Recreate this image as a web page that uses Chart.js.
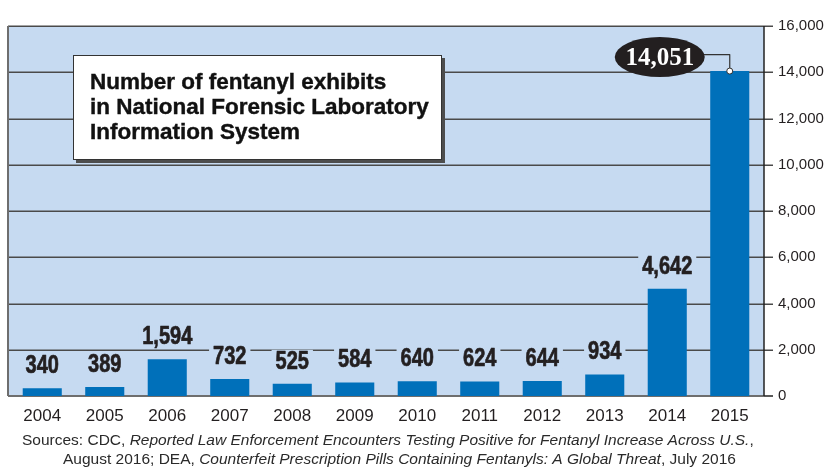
<!DOCTYPE html>
<html>
<head>
<meta charset="utf-8">
<script src="https://cdn.jsdelivr.net/npm/chart.js@4"></script>
<style>
html,body{margin:0;padding:0;background:#fff;}
canvas{display:block;}
</style>
</head>
<body>
<canvas id="c" width="827" height="468"></canvas>
<script>
const years = ['2004','2005','2006','2007','2008','2009','2010','2011','2012','2013','2014','2015'];
const exhibits = [340, 389, 1594, 732, 525, 584, 640, 624, 644, 934, 4642, 14051];
const yMax = 16000;
const yStep = 2000;
const titleLines = ['Number of fentanyl exhibits', 'in National Forensic Laboratory', 'Information System'];
const sourceLine1 = [['Sources: CDC, ', false], ['Reported Law Enforcement Encounters Testing Positive for Fentanyl Increase Across U.S.', true], [',', false]];
const sourceLine2 = [['August 2016; DEA, ', false], ['Counterfeit Prescription Pills Containing Fentanyls: A Global Threat', true], [', July 2016', false]];
const calloutIndex = exhibits.indexOf(Math.max(...exhibits));

const BG = '#c6daf1';
const BAR = '#0070ba';
const fmt = v => v.toLocaleString('en-US');

function condensedText(ctx, txt, x, y, sx) {
  ctx.save();
  ctx.translate(x, y);
  ctx.scale(sx, 1);
  ctx.strokeText(txt, 0, 0);
  ctx.fillText(txt, 0, 0);
  ctx.restore();
}

const decor = {
  id: 'decor',
  beforeDatasetsDraw(chart) {
    const ctx = chart.ctx, a = chart.chartArea, y = chart.scales.y;
    const L = a.left - 3, R = a.right + 3;
    ctx.save();
    ctx.fillStyle = BG;
    ctx.fillRect(L, a.top, R - L, a.bottom - a.top);
    ctx.strokeStyle = '#4a4a4a';
    ctx.lineWidth = 1.5;
    for (let v = yStep; v <= yMax; v += yStep) {
      const p = Math.round(y.getPixelForValue(v)) + 0.25;
      ctx.beginPath(); ctx.moveTo(L, p); ctx.lineTo(R + 9, p); ctx.stroke();
    }
    ctx.strokeStyle = '#6e6e6e';
    ctx.lineWidth = 2;
    ctx.beginPath(); ctx.moveTo(L, a.top); ctx.lineTo(L, a.bottom); ctx.stroke();
    const p0 = y.getPixelForValue(0);
    ctx.beginPath(); ctx.moveTo(L, p0); ctx.lineTo(R, p0); ctx.stroke();
    ctx.strokeStyle = '#222';
    ctx.lineWidth = 1.5;
    ctx.beginPath(); ctx.moveTo(R, p0); ctx.lineTo(R + 9, p0); ctx.stroke();
    ctx.beginPath(); ctx.moveTo(R, a.top); ctx.lineTo(R, a.bottom); ctx.stroke();
    ctx.restore();
  },
  afterDatasetsDraw(chart) {
    const ctx = chart.ctx;
    const meta = chart.getDatasetMeta(0);
    ctx.save();
    ctx.font = 'bold 25px "Liberation Sans", Arial, sans-serif';
    ctx.textAlign = 'center';
    ctx.textBaseline = 'middle';
    ctx.lineJoin = 'round';
    const sx = 0.8;
    meta.data.forEach((bar, i) => {
      if (i === calloutIndex) return;
      const txt = fmt(exhibits[i]);
      const cy = bar.y - 23;
      const w = ctx.measureText(txt).width * sx;
      ctx.fillStyle = BG;
      ctx.fillRect(bar.x - w / 2 - 4, cy - 11, w + 8, 21);
      ctx.fillStyle = '#231f20';
      ctx.strokeStyle = '#231f20';
      ctx.lineWidth = 0.7;
      condensedText(ctx, txt, bar.x, cy + 1, sx);
    });
    const b = meta.data[calloutIndex];
    const ex = b.x - 70, ey = b.y - 14;
    ctx.strokeStyle = '#333';
    ctx.lineWidth = 1.2;
    ctx.beginPath();
    ctx.moveTo(ex + 40, b.y - 16.5);
    ctx.lineTo(b.x, b.y - 16.5);
    ctx.lineTo(b.x, b.y);
    ctx.stroke();
    ctx.fillStyle = '#231f20';
    ctx.beginPath();
    ctx.ellipse(ex, ey, 45, 20, 0, 0, Math.PI * 2);
    ctx.fill();
    ctx.fillStyle = '#fff';
    ctx.font = 'bold 25px "Liberation Serif", "DejaVu Serif", serif';
    ctx.fillText(fmt(exhibits[calloutIndex]), ex, ey + 1);
    ctx.beginPath();
    ctx.arc(b.x, b.y, 3, 0, Math.PI * 2);
    ctx.fillStyle = '#fff';
    ctx.fill();
    ctx.strokeStyle = '#333';
    ctx.lineWidth = 1;
    ctx.stroke();
    ctx.restore();
  },
  afterDraw(chart) {
    const ctx = chart.ctx;
    ctx.save();
    const bx = 73, by = 55, bw = 369, bh = 105;
    ctx.fillStyle = '#4d4d4d';
    ctx.fillRect(bx + 3, by + 3, bw, bh);
    ctx.fillStyle = '#fff';
    ctx.fillRect(bx, by, bw, bh);
    ctx.strokeStyle = '#333';
    ctx.lineWidth = 1;
    ctx.strokeRect(bx + 0.5, by + 0.5, bw - 1, bh - 1);
    ctx.fillStyle = '#111';
    ctx.strokeStyle = '#111';
    ctx.lineWidth = 0.4;
    ctx.font = 'bold 22.5px "Liberation Sans", Arial, sans-serif';
    ctx.textAlign = 'left';
    ctx.textBaseline = 'alphabetic';
    titleLines.forEach((t, i) => { ctx.fillText(t, 90, 89 + i * 25); ctx.strokeText(t, 90, 89 + i * 25); });
    const drawLine = (segs, x0, cy) => {
      let x = x0;
      ctx.fillStyle = '#2a2a2a';
      ctx.textBaseline = 'middle';
      segs.forEach(s => {
        ctx.font = (s[1] ? 'italic ' : '') + '15.5px "Liberation Sans", Arial, sans-serif';
        ctx.fillText(s[0], x, cy);
        x += ctx.measureText(s[0]).width;
      });
    };
    drawLine(sourceLine1, 22, 441);
    drawLine(sourceLine2, 63, 460);
    ctx.restore();
  }
};

new Chart(document.getElementById('c'), {
  type: 'bar',
  data: {
    labels: years,
    datasets: [{
      data: exhibits,
      backgroundColor: BAR,
      barPercentage: 0.625,
      categoryPercentage: 1
    }]
  },
  options: {
    responsive: false,
    animation: false,
    devicePixelRatio: 1,
    layout: { padding: { left: 11, top: 16, right: 0, bottom: 0 } },
    plugins: { legend: { display: false }, tooltip: { enabled: false }, title: { display: false } },
    scales: {
      x: {
        grid: { display: false, drawTicks: false },
        border: { display: false },
        ticks: {
          color: '#231f20',
          font: { family: '"Liberation Sans", Arial, sans-serif', size: 17 },
          padding: 10,
          maxRotation: 0,
          autoSkip: false
        },
        afterFit: s => { s.height = 72; }
      },
      y: {
        position: 'right',
        min: 0,
        max: yMax,
        grid: { display: false, drawTicks: false },
        border: { display: false },
        ticks: {
          stepSize: yStep,
          padding: 17,
          color: '#231f20',
          font: { family: '"Liberation Sans", Arial, sans-serif', size: 15 },
          callback: v => fmt(v)
        },
        afterFit: s => { s.width = 66; }
      }
    }
  },
  plugins: [decor]
});
</script>
</body>
</html>
